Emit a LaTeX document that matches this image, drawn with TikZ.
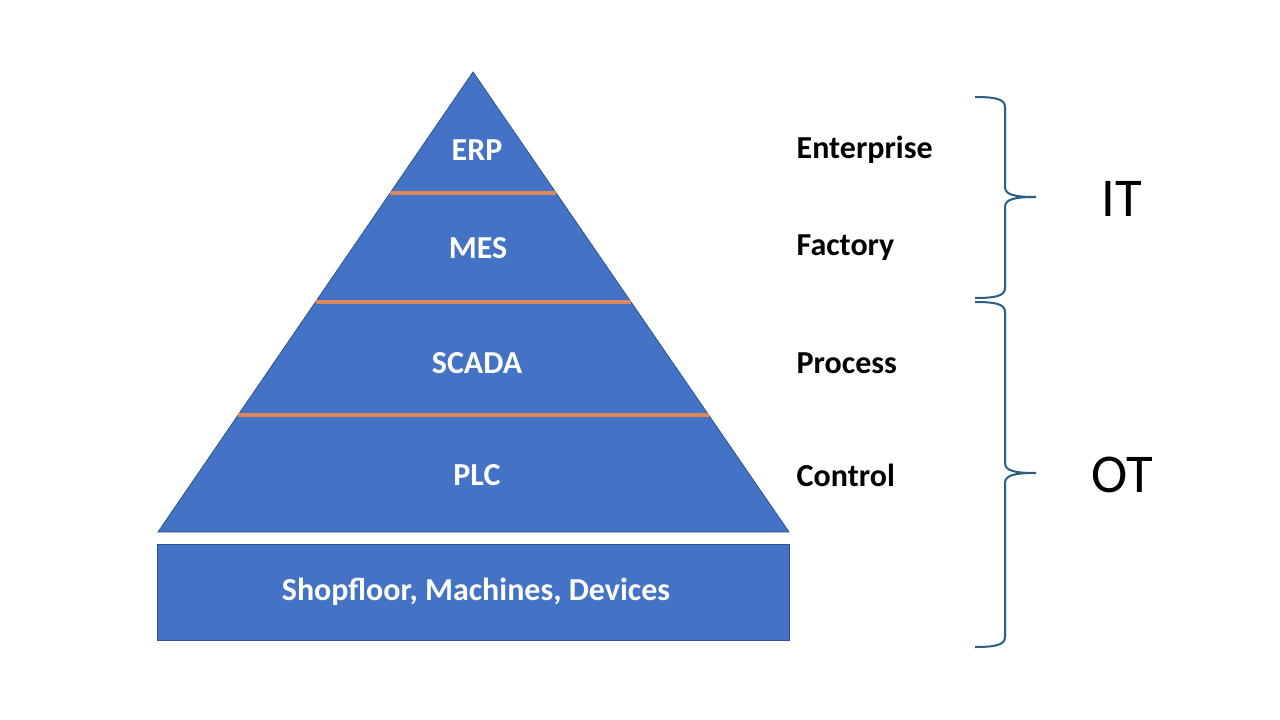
\documentclass[tikz,border=0pt]{standalone}
\usepackage{fontspec}
\setmainfont{Carlito}
\usetikzlibrary{calc}
\definecolor{layerblue}{HTML}{4472C4}
\definecolor{layeredge}{HTML}{2F528F}
\definecolor{sepline}{HTML}{D98A5C}
\definecolor{bracecol}{HTML}{2A5F82}

\begin{document}
\begin{tikzpicture}[x=0.75pt,y=-0.75pt,
    layer/.style={text=white,font=\fontsize{24}{28}\selectfont\bfseries},
    level/.style={anchor=west,font=\fontsize{24}{28}\selectfont\bfseries},
    realm/.style={font=\fontsize{41}{46}\selectfont},
    brace/.style={draw=bracecol,line width=1.5pt}]
  \useasboundingbox (0,0) rectangle (1280,720);
  \coordinate (apex) at (473,72);
  \coordinate (bl) at (158,532);
  \coordinate (br) at (789,532);
  \filldraw[fill=layerblue,draw=layeredge,line width=0.6pt] (apex) -- (br) -- (bl) -- cycle;
  \filldraw[fill=layerblue,draw=layeredge,line width=0.6pt] (157,544) rectangle (789,640);
  % separators between layers
  \foreach \f in {0.263,0.5,0.7457}
    \draw[sepline,line width=2.4pt] ($(apex)!\f!(bl)$) -- ($(apex)!\f!(br)$);
  \node[layer] (erp) at (477,150) {ERP};
  \node[layer] (mes) at (478,248) {MES};
  \node[layer] (scada) at (477,363) {SCADA};
  \node[layer] (plc) at (477,475) {PLC};
  \node[layer] (floor) at (476,592) {Shopfloor, Machines, Devices};
  \node[level] (ent) at (792,150) {Enterprise};
  \node[level] (fac) at (792,248) {Factory};
  \node[level] (pro) at (792,363) {Process};
  \node[level] (con) at (792,475) {Control};
  \node[realm] (it) at (1122,199) {IT};
  \node[realm] (ot) at (1122,475) {OT};
  % braces
  \draw[brace] (975,97) .. controls (995,97) and (1005,99) .. (1005,107) -- (1005,187)
    .. controls (1005,195) and (1015,197) .. (1036,197)
    .. controls (1015,197) and (1005,199) .. (1005,207) -- (1005,288)
    .. controls (1005,296) and (995,298) .. (975,298);
  \draw[brace] (975,302) .. controls (995,302) and (1005,304) .. (1005,312) -- (1005,463)
    .. controls (1005,471) and (1015,473) .. (1036,473)
    .. controls (1015,473) and (1005,475) .. (1005,483) -- (1005,637)
    .. controls (1005,645) and (995,647) .. (975,647);
\end{tikzpicture}
\end{document}
